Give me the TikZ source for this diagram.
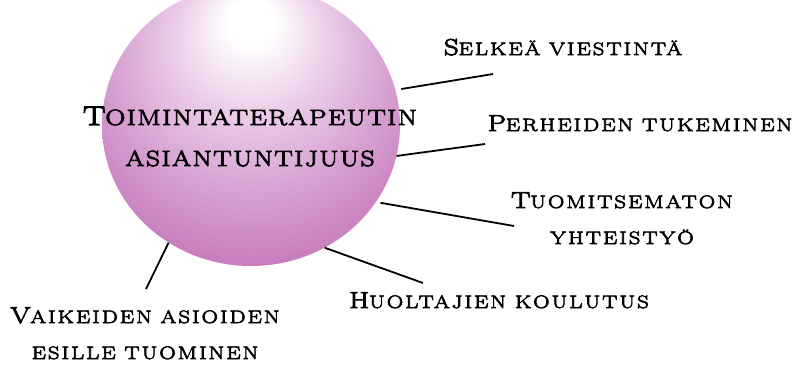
\documentclass[tikz,border=0pt]{standalone}
\usepackage{fontspec}
\usetikzlibrary{shapes.geometric}
\newfontfamily\cpfont[FakeStretch=1.25,LetterSpace=12,FakeBold=4]{Latin Modern Roman}
\newfontfamily\cpfontc[FakeStretch=1.25,LetterSpace=7,FakeBold=4]{Latin Modern Roman}
\definecolor{sphA}{RGB}{235,205,232}
\definecolor{sphB}{RGB}{215,160,210}
\definecolor{sphC}{RGB}{200,125,190}
\definecolor{sphD}{RGB}{185,95,175}
\definecolor{sphE}{RGB}{178,86,168}
\pgfdeclareradialshading{sphere}{\pgfqpoint{0bp}{20bp}}{%
  color(0bp)=(white); color(4bp)=(white); color(13bp)=(sphA);
  color(23bp)=(sphB); color(32bp)=(sphC); color(40bp)=(sphD); color(50bp)=(sphE)}
\newcommand\capL[1]{{\fontsize{23}{35}\selectfont #1}}
\newcommand\capC[1]{{\fontsize{26.8}{41}\selectfont #1}}
\tikzset{
  lbl/.style={inner sep=0pt, align=center, anchor=base,
    font=\cpfont\fontsize{18}{36}\selectfont},
  ctr/.style={inner sep=0pt, align=center, anchor=base,
    font=\cpfontc\fontsize{22}{41}\selectfont},
  conn/.style={line width=1.8pt, black}
}
\begin{document}
\begin{tikzpicture}[x=1pt,y=-1pt]
\useasboundingbox (0,0) rectangle (804,365);
\clip (0,0) rectangle (804,365);
\node[ellipse, minimum width=298pt, minimum height=282pt, inner sep=0pt,
  shading=sphere] (sph) at (251,125) {};
\node[ctr] (c) at (250,166) {\capC{T}OIMINTATERAPEUTIN\\ASIANTUNTIJUUS};
\node[lbl] (l1) at (563,55) {\capL{S}ELKEÄ VIESTINTÄ};
\node[lbl] (l2) at (640,131) {\capL{P}ERHEIDEN TUKEMINEN};
\node[lbl] (l3) at (622,244) {\capL{T}UOMITSEMATON\\YHTEISTYÖ};
\node[lbl] (l4) at (499,308) {\capL{H}UOLTAJIEN KOULUTUS};
\node[lbl] (l5) at (145,359) {\capL{V}AIKEIDEN ASIOIDEN\\ESILLE TUOMINEN};
\coordinate (e1) at (493,74);
\coordinate (e2) at (485,144);
\coordinate (e3) at (514,226);
\coordinate (e4) at (423,283);
\coordinate (e5) at (146,289);
\draw[conn] ([xshift=6pt]sph.14) -- (e1);
\draw[conn] (sph.-12.4) -- (e2);
\draw[conn] ([xshift=5pt]sph.-32.6) -- (e3);
\draw[conn] (sph.-59) -- (e4);
\draw[conn] (sph.-125.8) -- (e5);
\end{tikzpicture}
\end{document}
